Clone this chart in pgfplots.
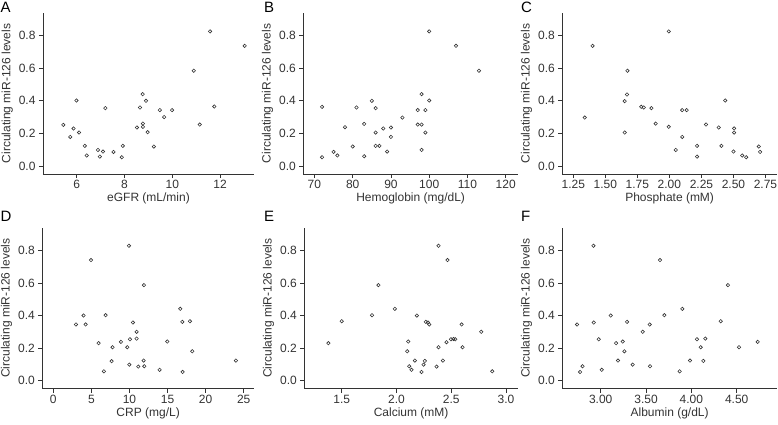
\documentclass[border=0pt]{standalone}
\usepackage{fontspec}
\setmainfont{Liberation Sans}
\usepackage{pgfplots}
\pgfplotsset{compat=1.18}
\definecolor{ink}{gray}{0.2}
\tikzset{dot/.style={draw=ink, only marks, mark=o, mark size=1.7pt, mark options={line width=0.6pt, draw=ink}}}
\pgfplotsset{panel/.style={
  scale only axis, height=161pt, anchor=south west,
  axis lines=left, axis line style={-, draw=ink, line width=0.7pt},
  ymin=-0.05, ymax=0.94, ytick={0,0.2,0.4,0.6,0.8},
  tick align=outside, major tick length=4pt,
  tick style={draw=ink, line width=0.7pt},
  /pgf/number format/assume math mode=true,
  yticklabel style={/pgf/number format/fixed, /pgf/number format/fixed zerofill, /pgf/number format/precision=1},
  ylabel={Circulating miR-126 levels},
  font=\fontsize{12}{14}\selectfont,
  ticklabel style={font=\fontsize{12}{14}\selectfont, text=ink},
  label style={text=ink},
  x tick label style={yshift=1pt},
  ylabel style={yshift=-1pt},
  xlabel style={yshift=3pt},
}}
\begin{document}
\begin{tikzpicture}
\useasboundingbox (0,0) rectangle (778pt,424pt);
% A
\begin{axis}[panel, at={(43pt,250pt)}, width=211pt, xmin=4.59, xmax=13.42, xtick={6,8,10,12}, xlabel={eGFR (mL/min)}]
\addplot[dot] coordinates {(5.44,0.252)(5.73,0.178)(5.87,0.23)(5.99,0.402)(6.10,0.205)(6.34,0.123)(6.42,0.064)(6.89,0.098)(6.97,0.057)(7.10,0.088)(7.20,0.355)(7.54,0.086)(7.89,0.053)(7.93,0.123)(8.52,0.236)(8.65,0.359)(8.76,0.441)(8.77,0.26)(8.77,0.24)(8.90,0.40)(8.97,0.207)(9.23,0.119)(9.48,0.343)(9.66,0.30)(9.99,0.343)(10.90,0.585)(11.15,0.254)(11.58,0.827)(11.76,0.365)(13.03,0.738)};
\end{axis}
% B
\begin{axis}[panel, at={(303.3pt,250pt)}, width=214.7pt, xmin=67.1, xmax=123.2, xtick={70,80,90,100,110,120}, xlabel={Hemoglobin (mg/dL)}]
\addplot[dot] coordinates {(72,0.363)(72,0.053)(75,0.086)(76,0.064)(78,0.238)(80,0.119)(81,0.359)(83,0.258)(83,0.059)(85,0.40)(86,0.355)(86,0.205)(86,0.123)(87,0.123)(88,0.23)(89,0.088)(90,0.236)(90,0.178)(93,0.297)(97,0.343)(97,0.254)(98,0.441)(98,0.254)(98,0.098)(99,0.343)(99,0.205)(100,0.827)(100,0.402)(107,0.738)(113,0.585)};
\end{axis}
% C
\begin{axis}[panel, at={(562.3pt,250pt)}, width=214.7pt, xmin=1.164, xmax=2.84, xtick={1.25,1.5,1.75,2,2.25,2.5,2.75}, xticklabel style={/pgf/number format/fixed, /pgf/number format/fixed zerofill, /pgf/number format/precision=2}, xlabel={Phosphate (mM)}]
\addplot[dot] coordinates {(1.339,0.297)(1.40,0.738)(1.651,0.398)(1.651,0.205)(1.669,0.439)(1.672,0.585)(1.78,0.363)(1.80,0.359)(1.86,0.355)(1.893,0.26)(1.995,0.827)(1.995,0.24)(2.05,0.098)(2.10,0.343)(2.10,0.178)(2.135,0.343)(2.216,0.123)(2.216,0.057)(2.286,0.254)(2.385,0.236)(2.406,0.123)(2.435,0.402)(2.50,0.088)(2.505,0.23)(2.505,0.205)(2.568,0.064)(2.599,0.053)(2.698,0.119)(2.708,0.086)};
\end{axis}
% D
\begin{axis}[panel, at={(42.3pt,35.3pt)}, width=211.7pt, xmin=-1.44, xmax=26.35, xtick={0,5,10,15,20,25}, xlabel={CRP (mg/L)}]
\addplot[dot] coordinates {(2.98,0.345)(3.98,0.40)(4.25,0.345)(4.95,0.741)(5.95,0.23)(6.65,0.057)(6.87,0.402)(7.66,0.119)(7.79,0.205)(8.88,0.238)(9.72,0.205)(9.93,0.829)(9.98,0.098)(10.07,0.254)(10.46,0.357)(10.94,0.30)(10.94,0.258)(11.16,0.086)(11.90,0.587)(11.86,0.123)(11.95,0.088)(13.96,0.066)(14.97,0.24)(16.67,0.441)(16.94,0.361)(16.98,0.053)(17.94,0.365)(18.25,0.18)(23.98,0.123)};
\end{axis}
% E
\begin{axis}[panel, at={(304.3pt,35.3pt)}, width=213.7pt, xmin=1.158, xmax=3.11, xtick={1.5,2,2.5,3}, xticklabel style={/pgf/number format/fixed, /pgf/number format/fixed zerofill, /pgf/number format/precision=1}, xlabel={Calcium (mM)}]
\addplot[dot] coordinates {(1.378,0.23)(1.50,0.365)(1.777,0.402)(1.835,0.587)(1.985,0.441)(2.098,0.18)(2.107,0.24)(2.116,0.088)(2.137,0.066)(2.168,0.123)(2.186,0.40)(2.229,0.053)(2.247,0.098)(2.259,0.121)(2.268,0.361)(2.287,0.357)(2.299,0.345)(2.366,0.086)(2.384,0.829)(2.384,0.205)(2.424,0.123)(2.457,0.236)(2.466,0.741)(2.497,0.254)(2.521,0.256)(2.537,0.254)(2.595,0.345)(2.604,0.205)(2.774,0.30)(2.875,0.057)};
\end{axis}
% F
\begin{axis}[panel, at={(562.3pt,35.3pt)}, width=214.7pt, xmin=2.576, xmax=4.945, xtick={3,3.5,4,4.5}, xticklabel style={/pgf/number format/fixed, /pgf/number format/fixed zerofill, /pgf/number format/precision=2}, xlabel={Albumin (g/dL)}]
\addplot[dot] coordinates {(2.739,0.345)(2.772,0.053)(2.80,0.088)(2.919,0.829)(2.923,0.357)(2.978,0.254)(3.011,0.066)(3.11,0.40)(3.169,0.23)(3.191,0.123)(3.243,0.24)(3.261,0.18)(3.29,0.361)(3.353,0.098)(3.463,0.30)(3.54,0.345)(3.544,0.088)(3.654,0.741)(3.702,0.402)(3.871,0.057)(3.90,0.441)(3.985,0.123)(4.062,0.254)(4.103,0.205)(4.132,0.121)(4.154,0.258)(4.324,0.365)(4.404,0.587)(4.526,0.205)(4.732,0.238)};
\end{axis}
% panel letters
\begin{scope}[every node/.style={anchor=north west, inner sep=0pt, font=\fontsize{15}{15}\selectfont, text=black}]
\node at (0.5pt,422pt) {A};
\node at (264pt,422pt) {B};
\node at (521pt,422pt) {C};
\node at (0.5pt,213pt) {D};
\node at (264pt,213pt) {E};
\node at (521pt,213pt) {F};
\end{scope}
\end{tikzpicture}
\end{document}
